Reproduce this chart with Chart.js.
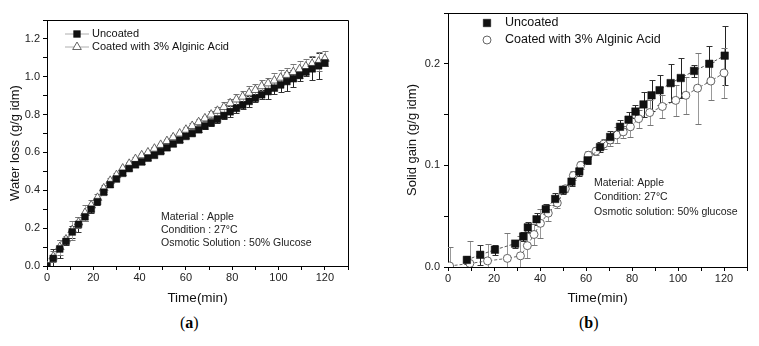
<!DOCTYPE html>
<html>
<head>
<meta charset="utf-8">
<script src="https://cdn.jsdelivr.net/npm/chart.js@4.4.0/dist/chart.umd.min.js"></script>
<style>
  body { margin: 0; background: #fff; width: 759px; height: 346px; overflow: hidden; position: relative; }
  canvas { position: absolute; top: 0; }
  #graficaA { left: 0; }
  #graficaB { left: 380px; }
  .pie { position: absolute; top: 314px; font-family: "Liberation Serif", serif; font-size: 16px; color: #000; }
</style>
</head>
<body>
<canvas id="graficaA" width="380" height="310"></canvas>
<canvas id="graficaB" width="379" height="310"></canvas>
<div class="pie" style="left:180px">(<b>a</b>)</div>
<div class="pie" style="left:579px">(<b>b</b>)</div>
<script>

// (a) perdida de agua
const tiempoA = [0, 2.7, 5.5, 8.2, 10.9, 13.6, 16.4, 19.1, 21.8, 24.5,
    27.3, 30, 32.7, 35.5, 38.2, 40.9, 43.6, 46.4, 49.1, 51.8,
    54.5, 57.3, 60, 62.7, 65.5, 68.2, 70.9, 73.6, 76.4, 79.1,
    81.8, 84.5, 87.3, 90, 92.7, 95.5, 98.2, 100.9, 103.6, 106.4,
    109.1, 111.8, 114.5, 117.3, 120];
const perdidaSinRecubrir = [0.00, 0.04, 0.09, 0.13, 0.18, 0.22, 0.26, 0.30, 0.34, 0.39,
    0.43, 0.46, 0.49, 0.515, 0.535, 0.55, 0.57, 0.585, 0.605, 0.625,
    0.645, 0.665, 0.685, 0.70, 0.72, 0.74, 0.757, 0.775, 0.795, 0.815,
    0.833, 0.85, 0.87, 0.887, 0.905, 0.922, 0.94, 0.957, 0.975, 0.99,
    1.007, 1.025, 1.042, 1.058, 1.073];
const perdidaRecubierto = [0.00, 0.05, 0.10, 0.14, 0.19, 0.23, 0.28, 0.32, 0.36, 0.41,
    0.45, 0.48, 0.515, 0.54, 0.565, 0.585, 0.60, 0.62, 0.64, 0.66,
    0.68, 0.70, 0.72, 0.74, 0.76, 0.78, 0.80, 0.82, 0.84, 0.86,
    0.88, 0.895, 0.915, 0.93, 0.95, 0.965, 0.98, 0.995, 1.01, 1.025,
    1.04, 1.055, 1.068, 1.08, 1.095];
const errorSinRecubrirA = [0, 0.05, 0.05, 0.02, 0.03, 0.04, 0.02, 0.02, 0.015, 0.01,
    0.01, 0.01, 0.01, 0.01, 0.01, 0.01, 0.01, 0.01, 0.01, 0.01,
    0.01, 0.01, 0.01, 0.01, 0.01, 0.015, 0.015, 0.02, 0.02, 0.03,
    0.025, 0.02, 0.03, 0.02, 0.025, 0.04, 0.03, 0.04, 0.05, 0.045,
    0.03, 0.02, 0.06, 0.07, 0.015];
const errorRecubiertoA = [0, 0.03, 0.04, 0.02, 0.05, 0.03, 0.04, 0.03, 0.02, 0.02,
    0.015, 0.01, 0.01, 0.01, 0.01, 0.01, 0.01, 0.01, 0.01, 0.01,
    0.01, 0.01, 0.015, 0.015, 0.015, 0.015, 0.02, 0.02, 0.025, 0.025,
    0.03, 0.03, 0.035, 0.03, 0.035, 0.03, 0.04, 0.04, 0.035, 0.04,
    0.045, 0.04, 0.04, 0.05, 0.04];

// (b) ganancia de solidos
const tiempoSinRecubrirB = [8.2, 14, 20.4, 29.2, 32.7, 34.7, 38.5, 42.5, 46.6,
    50, 53.7, 57.1, 60.7, 66.1, 70.5, 74.8, 78.5, 81.5, 85,
    88.5, 92, 96.8, 101.2, 107, 113.6, 120.3];
const gananciaSinRecubrir = [0.007, 0.012, 0.017, 0.023, 0.030, 0.039, 0.047, 0.057, 0.067,
    0.076, 0.084, 0.094, 0.105, 0.118, 0.128, 0.138, 0.145, 0.153, 0.160,
    0.169, 0.174, 0.181, 0.186, 0.193, 0.200, 0.208];
const errorSinRecubrirB = [0.004, 0.010, 0.005, 0.004, 0.004, 0.005, 0.006, 0.005, 0.006,
    0.004, 0.004, 0.004, 0.004, 0.005, 0.006, 0.007, 0.008, 0.006, 0.012,
    0.015, 0.015, 0.019, 0.020, 0.006, 0.018, 0.029];
const tiempoRecubiertoB = [0.7, 9.5, 17.2, 25.8, 31.5, 34.5, 37.4, 40.2, 43.6, 47.5,
    51, 54.5, 57.7, 61, 64.3, 67.7, 70.5, 73.3, 76.2, 79.3,
    82.9, 87.7, 93.2, 99, 103.4, 108.5, 114.3, 120];
const gananciaRecubierto = [0.001, 0.0035, 0.006, 0.0085, 0.011, 0.021, 0.032, 0.043, 0.053, 0.063,
    0.077, 0.090, 0.100, 0.110, 0.114, 0.121, 0.125, 0.130, 0.133, 0.138,
    0.146, 0.152, 0.158, 0.164, 0.169, 0.176, 0.183, 0.191];
const errorRecubiertoB = [0.019, 0.022, 0.017, 0.025, 0.02, 0.012, 0.01, 0.014, 0.008, 0.005,
    0.003, 0.004, 0.004, 0.004, 0.004, 0.005, 0.006, 0.008, 0.006, 0.01,
    0.009, 0.012, 0.011, 0.015, 0.018, 0.035, 0.019, 0.025];

const etiquetas = ['Uncoated', 'Coated with 3% Alginic Acid'];
const notasA = ['Material : Apple', 'Condition : 27°C', 'Osmotic Solution : 50% Glucose'];
const notasB = ['Material: Apple', 'Condition: 27°C', 'Osmotic solution: 50% glucose'];

Chart.defaults.font.family = '"Liberation Sans", Arial, sans-serif';
Chart.defaults.color = '#222';

function puntos(xs, ys) {
    return xs.map((x, i) => ({ x: x, y: ys[i] }));
}

// barras de error con las escalas de la grafica
const barrasError = {
    id: 'barrasError',
    beforeDatasetsDraw(chart) {
        const ctx = chart.ctx;
        const ex = chart.scales.x, ey = chart.scales.y, a = chart.chartArea;
        ctx.save();
        ctx.beginPath();
        ctx.rect(a.left, a.top, a.width, a.height);
        ctx.clip();
        chart.data.datasets.forEach(ds => {
            ds.data.forEach((p, i) => {
                const e = ds.errores[i];
                if (!e) return;
                const px = Math.round(ex.getPixelForValue(p.x)) + 0.5;
                const y1 = Math.round(ey.getPixelForValue(p.y + e)) + 0.5;
                const y2 = Math.round(ey.getPixelForValue(p.y - e)) + 0.5;
                ctx.lineWidth = 1;
                ctx.strokeStyle = ds.colorBarra;
                ctx.beginPath();
                ctx.moveTo(px, y1);
                ctx.lineTo(px, y2);
                ctx.stroke();
                ctx.strokeStyle = ds.colorTope;
                ctx.beginPath();
                ctx.moveTo(px - 3, y1); ctx.lineTo(px + 3, y1);
                ctx.moveTo(px - 3, y2); ctx.lineTo(px + 3, y2);
                ctx.stroke();
            });
        });
        ctx.restore();
    }
};

// recuadro, leyenda y notas
const marco = {
    id: 'marco',
    afterDraw(chart, args, opts) {
        const ctx = chart.ctx, a = chart.chartArea;
        ctx.save();
        ctx.strokeStyle = '#000';
        ctx.lineWidth = 1;
        ctx.beginPath();
        ctx.moveTo(a.left, a.top + 0.5);
        ctx.lineTo(a.right + 0.5, a.top + 0.5);
        ctx.lineTo(a.right + 0.5, a.bottom);
        ctx.stroke();

        const ley = opts.leyenda;
        ctx.font = ley.tamano + 'px "Liberation Sans", Arial, sans-serif';
        ctx.textBaseline = 'middle';
        ctx.textAlign = 'left';
        chart.data.datasets.forEach((ds, i) => {
            const y = ley.y + i * ley.paso;
            if (ley.linea) {
                ctx.strokeStyle = '#999';
                ctx.lineWidth = 0.8;
                ctx.beginPath();
                ctx.moveTo(ley.x - 12, y);
                ctx.lineTo(ley.x + 12, y);
                ctx.stroke();
            }
            ctx.fillStyle = ds.pointBackgroundColor;
            ctx.strokeStyle = ds.pointBorderColor;
            ctx.lineWidth = ds.pointBorderWidth;
            Chart.helpers.drawPoint(ctx, {
                pointStyle: ds.pointStyle, radius: ds.pointRadius,
                rotation: 0, borderWidth: ds.pointBorderWidth
            }, ley.x, y);
            ctx.fillStyle = '#111';
            ctx.fillText(ds.label, ley.texto, y);
        });

        const n = opts.notas;
        ctx.font = n.tamano + 'px "Liberation Sans", Arial, sans-serif';
        ctx.fillStyle = '#222';
        n.lineas.forEach((t, i) => ctx.fillText(t, n.x, n.y + i * n.paso));
        ctx.restore();
    }
};

function ejeX() {
    return {
        type: 'linear', min: 0, max: 130,
        ticks: {
            stepSize: 10, autoSkip: false, maxRotation: 0, padding: 1,
            font: { size: 11 }, color: '#222',
            callback: v => (v % 20 === 0 && v <= 120) ? v : ''
        },
        grid: { drawOnChartArea: false, tickLength: 4, color: '#000' },
        border: { color: '#000', width: 1 },
        title: { display: true, text: 'Time(min)', font: { size: 13.5 }, color: '#111', padding: { top: 2, bottom: 4 } }
    };
}

const ctxA = document.getElementById('graficaA');
const graficaA = new Chart(ctxA, {
    type: 'scatter',
    data: {
        datasets: [{
            label: etiquetas[0],
            data: puntos(tiempoA, perdidaSinRecubrir),
            errores: errorSinRecubrirA,
            colorBarra: '#222', colorTope: '#333',
            showLine: true, borderColor: '#999', borderWidth: 0.8,
            pointStyle: 'rect', pointRadius: 4.8,
            pointBackgroundColor: '#111', pointBorderColor: '#111', pointBorderWidth: 0.5,
            order: 0
        }, {
            label: etiquetas[1],
            data: puntos(tiempoA, perdidaRecubierto),
            errores: errorRecubiertoA,
            colorBarra: '#aaa', colorTope: '#777',
            showLine: true, borderColor: '#aaa', borderWidth: 0.8,
            pointStyle: 'triangle', pointRadius: 5,
            pointBackgroundColor: '#fff', pointBorderColor: '#555', pointBorderWidth: 0.9,
            order: 1
        }]
    },
    options: {
        responsive: false,
        devicePixelRatio: 1,
        animation: false,
        layout: { padding: { top: 20, right: 32, left: 0, bottom: 0 } },
        plugins: {
            legend: { display: false },
            tooltip: { enabled: false },
            marco: {
                leyenda: { x: 77, texto: 92, y: 34, paso: 13, tamano: 11, linea: true },
                notas: { x: 161, y: 217, paso: 13, tamano: 10.5, lineas: notasA }
            }
        },
        scales: {
            x: Object.assign(ejeX(), { afterFit: s => { s.height = 44; } }),
            y: {
                min: 0, max: 1.3,
                ticks: {
                    stepSize: 0.1, autoSkip: false, padding: 3,
                    font: { size: 11 }, color: '#222',
                    callback: v => (Math.round(v * 10) % 2 === 0 && v < 1.25) ? v.toFixed(1) : ''
                },
                grid: { drawOnChartArea: false, tickLength: 4, color: '#000' },
                border: { color: '#000', width: 1 },
                title: { display: true, text: 'Water loss (g/g idm)', font: { size: 13 }, color: '#111', padding: { top: 8, bottom: 0 } },
                afterFit: s => { s.width = 47; }
            }
        }
    },
    plugins: [barrasError, marco]
});

const ctxB = document.getElementById('graficaB');
const graficaB = new Chart(ctxB, {
    type: 'scatter',
    data: {
        datasets: [{
            label: etiquetas[0],
            data: puntos(tiempoSinRecubrirB, gananciaSinRecubrir),
            errores: errorSinRecubrirB,
            colorBarra: '#222', colorTope: '#333',
            showLine: true, borderColor: '#444', borderWidth: 0.9, borderDash: [3, 2],
            pointStyle: 'rect', pointRadius: 5.3,
            pointBackgroundColor: '#111', pointBorderColor: '#111', pointBorderWidth: 0.5,
            order: 0
        }, {
            label: etiquetas[1],
            data: puntos(tiempoRecubiertoB, gananciaRecubierto),
            errores: errorRecubiertoB,
            colorBarra: '#999', colorTope: '#777',
            showLine: true, borderColor: '#555', borderWidth: 0.9, borderDash: [3, 2],
            pointStyle: 'circle', pointRadius: 4,
            pointBackgroundColor: '#fff', pointBorderColor: '#555', pointBorderWidth: 0.9,
            order: 1
        }]
    },
    options: {
        responsive: false,
        devicePixelRatio: 1,
        animation: false,
        layout: { padding: { top: 13, right: 12, left: 0, bottom: 0 } },
        plugins: {
            legend: { display: false },
            tooltip: { enabled: false },
            marco: {
                leyenda: { x: 107, texto: 125, y: 23, paso: 17, tamano: 12.5, linea: false },
                notas: { x: 214, y: 183, paso: 14.5, tamano: 10.5, lineas: notasB }
            }
        },
        scales: {
            x: Object.assign(ejeX(), { afterFit: s => { s.height = 43; } }),
            y: {
                min: 0, max: 0.25,
                ticks: {
                    stepSize: 0.05, autoSkip: false, padding: 4,
                    font: { size: 11 }, color: '#222',
                    callback: v => (Math.round(v * 100) % 10 === 0) ? v.toFixed(1) : ''
                },
                grid: { drawOnChartArea: false, tickLength: 4, color: '#000' },
                border: { color: '#000', width: 1 },
                title: { display: true, text: 'Solid gain (g/g idm)', font: { size: 13 }, color: '#111', padding: { top: 25, bottom: 0 } },
                afterFit: s => { s.width = 68; }
            }
        }
    },
    plugins: [barrasError, marco]
});

</script>
</body>
</html>
